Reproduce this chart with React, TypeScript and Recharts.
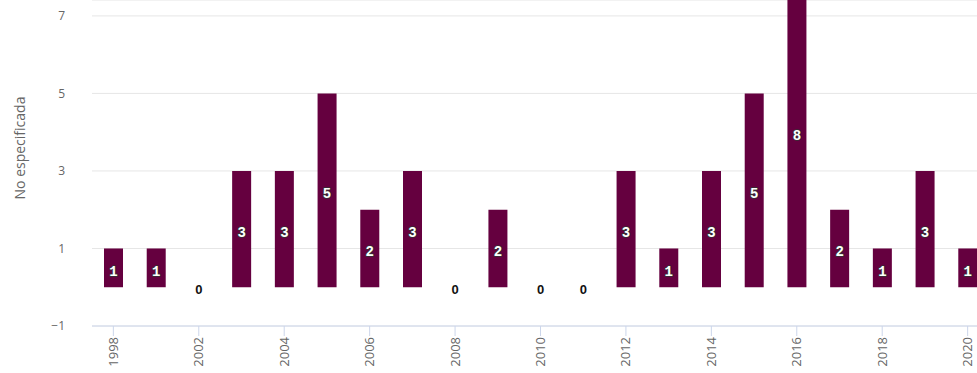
import React from 'react';
import { BarChart, Bar, XAxis, YAxis, CartesianGrid, LabelList, Cell } from 'recharts';

const years = ['1998', '2000', '2002', '2003', '2004', '2005', '2006', '2007', '2008', '2009', '2010',
  '2011', '2012', '2013', '2014', '2015', '2016', '2017', '2018', '2019', '2020'];
const counts = [1, 1, 0, 3, 3, 5, 2, 3, 0, 2, 0, 0, 3, 1, 3, 5, 8, 2, 1, 3, 1];
const yTicks = [-1, 1, 3, 5, 7];
const yTitle = 'No especificada';

const data = years.map((year, i) => ({ year, value: counts[i] }));

const BAR_COLOR = '#65003f';

const XTick = (props: any) => {
  const { x, y, payload } = props;
  return (
    <g transform={`translate(${x},${y})`}>
      <text
        transform="rotate(-90)"
        x={0}
        y={0}
        dy="0.35em"
        textAnchor="end"
        fill="#666666"
        fontSize={13}
        fontFamily="'Open Sans', sans-serif"
      >
        {payload.value}
      </text>
    </g>
  );
};

const ValueLabel = (props: any) => {
  const { x, y, width, height, value } = props;
  const cx = x + width / 2;
  const cy = y + height / 2 + 3;
  const zero = value === 0;
  return (
    <text
      x={cx}
      y={cy}
      dy="0.35em"
      textAnchor="middle"
      fontSize={zero ? 13 : 14}
      fontWeight="bold"
      fontFamily={zero ? "'Liberation Sans', sans-serif" : "'Liberation Mono', monospace"}
      fill={zero ? '#111111' : '#ffffff'}
      stroke={zero ? '#ffffff' : '#333333'}
      strokeWidth={zero ? 3 : 1.6}
      paintOrder="stroke"
      strokeLinejoin="round"
    >
      {value}
    </text>
  );
};

const YTitle = () => (
  <text
    x={20}
    y={148}
    transform="rotate(-90, 20, 148)"
    textAnchor="middle"
    dy="0.35em"
    fill="#666666"
    fontSize={14}
    fontFamily="'Open Sans', sans-serif"
  >
    {yTitle}
  </text>
);

export default function App() {
  return (
    <div style={{ position: 'absolute', left: 0, top: 0, width: 977, height: 373, overflow: 'hidden', background: '#ffffff' }}>
      <BarChart
        width={989}
        height={373}
        data={data}
        margin={{ top: 0, right: 0, bottom: 0, left: 0 }}
        barSize={19}
      >
        <CartesianGrid horizontal vertical={false} stroke="#e6e6e6" />
        <XAxis
          dataKey="year"
          interval={1}
          height={47}
          tickSize={10}
          tickMargin={1}
          axisLine={{ stroke: '#ccd6eb' }}
          tickLine={{ stroke: '#ccd6eb' }}
          tick={<XTick />}
        />
        <YAxis
          width={92}
          domain={[-1, 7.41]}
          ticks={yTicks}
          allowDataOverflow
          axisLine={false}
          tickLine={false}
          tickSize={6}
          tickMargin={21}
          tick={{ fill: '#666666', fontSize: 12, fontFamily: "'Open Sans', sans-serif" }}
          tickFormatter={(v: number) => String(v).replace('-', '\u2212')}
          label={<YTitle />}
        />
        <Bar
          dataKey="value"
          fill={BAR_COLOR}
          minPointSize={1}
          isAnimationActive={false}
        >
          {data.map((d) => (
            <Cell key={d.year} fill={d.value === 0 ? 'transparent' : BAR_COLOR} />
          ))}
          <LabelList dataKey="value" content={<ValueLabel />} />
        </Bar>
      </BarChart>
    </div>
  );
}
